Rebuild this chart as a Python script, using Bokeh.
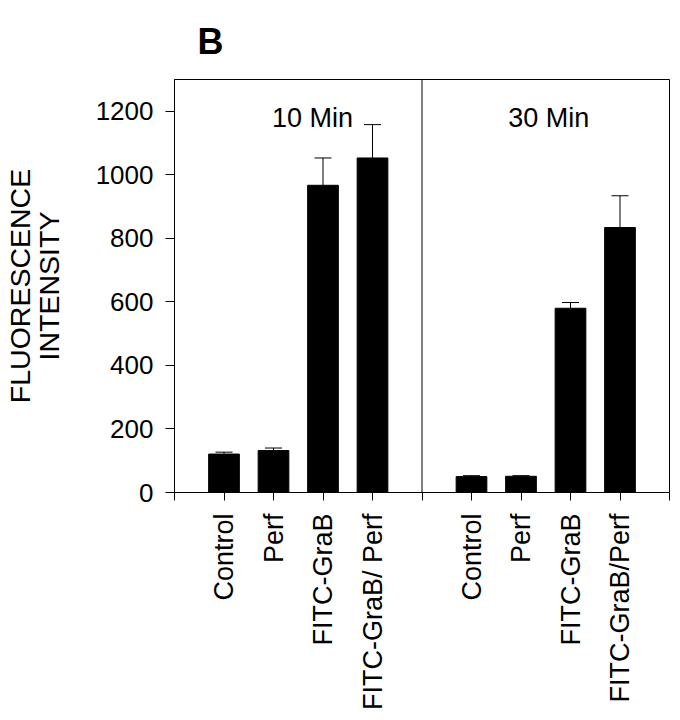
import math
from bokeh.plotting import figure
from bokeh.models import ColumnDataSource, FixedTicker, Whisker, TeeHead, Span, Label, Range1d
from bokeh.embed import file_html
from bokeh.resources import INLINE

# ---- data ----
groups = ["10 Min", "30 Min"]
categories_10 = ["Control", "Perf", "FITC-GraB", "FITC-GraB/ Perf"]
categories_30 = ["Control", "Perf", "FITC-GraB", "FITC-GraB/Perf"]
values_10 = [121, 132, 967, 1053]
errors_10 = [6, 8, 86, 105]
values_30 = [50, 51, 580, 834]
errors_30 = [3, 2, 18, 100]
y_ticks = [0, 200, 400, 600, 800, 1000, 1200]
y_label_lines = ["FLUORESCENCE", "INTENSITY"]
panel_letter = "B"

FONT = "Liberation Sans"

# build positions: each group occupies 5 slots, bars at 1..4
xs, ys, ups, labels = [], [], [], {}
for g, (cats, vals, errs) in enumerate([(categories_10, values_10, errors_10),
                                         (categories_30, values_30, errors_30)]):
    for i, (c, v, e) in enumerate(zip(cats, vals, errs)):
        x = g * 5 + i + 1
        xs.append(x)
        ys.append(v)
        ups.append(v + e)
        labels[x] = c
for edge in (0, 5, 10):
    labels[edge] = ""

src = ColumnDataSource(data=dict(x=xs, y=ys, upper=ups))

p = figure(frame_width=495, frame_height=413,
           x_range=Range1d(0, 10), y_range=Range1d(0, 1300),
           output_backend="svg", toolbar_location=None,
           min_border_left=168, min_border_top=78, min_border_right=1,
           min_border_bottom=0, title=panel_letter)
p.background_fill_color = "white"
p.border_fill_color = "white"
p.outline_line_color = "black"
p.outline_line_width = 1
p.xgrid.visible = False
p.ygrid.visible = False

# panel letter as title
p.title.text_font = FONT
p.title.text_font_size = "36px"
p.title.text_font_style = "bold"
p.title.text_color = "black"
p.title.align = "left"
p.title.offset = 23
p.title.standoff = 36

p.vbar(x="x", top="y", width=0.62, source=src, fill_color="black", line_color="black")
w = Whisker(source=src, base="x", lower="y", upper="upper", dimension="height",
            line_color="black", line_width=1,
            upper_head=TeeHead(size=17, line_color="black", line_width=1),
            lower_head=None)
p.add_layout(w)

p.add_layout(Span(location=5, dimension="height", line_color="black", line_width=1))

# y axis
ya = p.yaxis[0]
ya.ticker = FixedTicker(ticks=y_ticks)
ya.major_label_text_font = FONT
ya.major_label_text_font_size = "26px"
ya.major_label_text_color = "black"
ya.axis_line_color = "black"
ya.major_tick_line_color = "black"
ya.major_tick_out = 9
ya.major_tick_in = 0
ya.minor_tick_line_color = None
ya.major_label_standoff = 12
ya.axis_label = "\n".join(y_label_lines)
ya.axis_label_text_font = FONT
ya.axis_label_text_font_size = "28.5px"
ya.axis_label_text_font_style = "normal"
ya.axis_label_text_color = "black"
ya.axis_label_text_line_height = 0.9
ya.axis_label_standoff = 28

# x axis
xa = p.xaxis[0]
xa.ticker = FixedTicker(ticks=sorted(labels.keys()))
xa.major_label_overrides = {k: v for k, v in labels.items()}
xa.major_label_orientation = math.pi / 2
xa.major_label_text_font = FONT
xa.major_label_text_font_size = "27px"
xa.major_label_text_color = "black"
xa.axis_line_color = "black"
xa.major_tick_line_color = "black"
xa.major_tick_out = 8
xa.major_tick_in = 0
xa.minor_tick_line_color = None
xa.major_label_standoff = 13

# group titles
for gx, name in zip([2.79, 7.56], groups):
    p.add_layout(Label(x=gx, y=1179, text=name, text_align="center",
                       text_baseline="alphabetic", text_font=FONT,
                       text_font_size="27px", text_color="black"))

open("out.html", "w").write(file_html(p, INLINE))
